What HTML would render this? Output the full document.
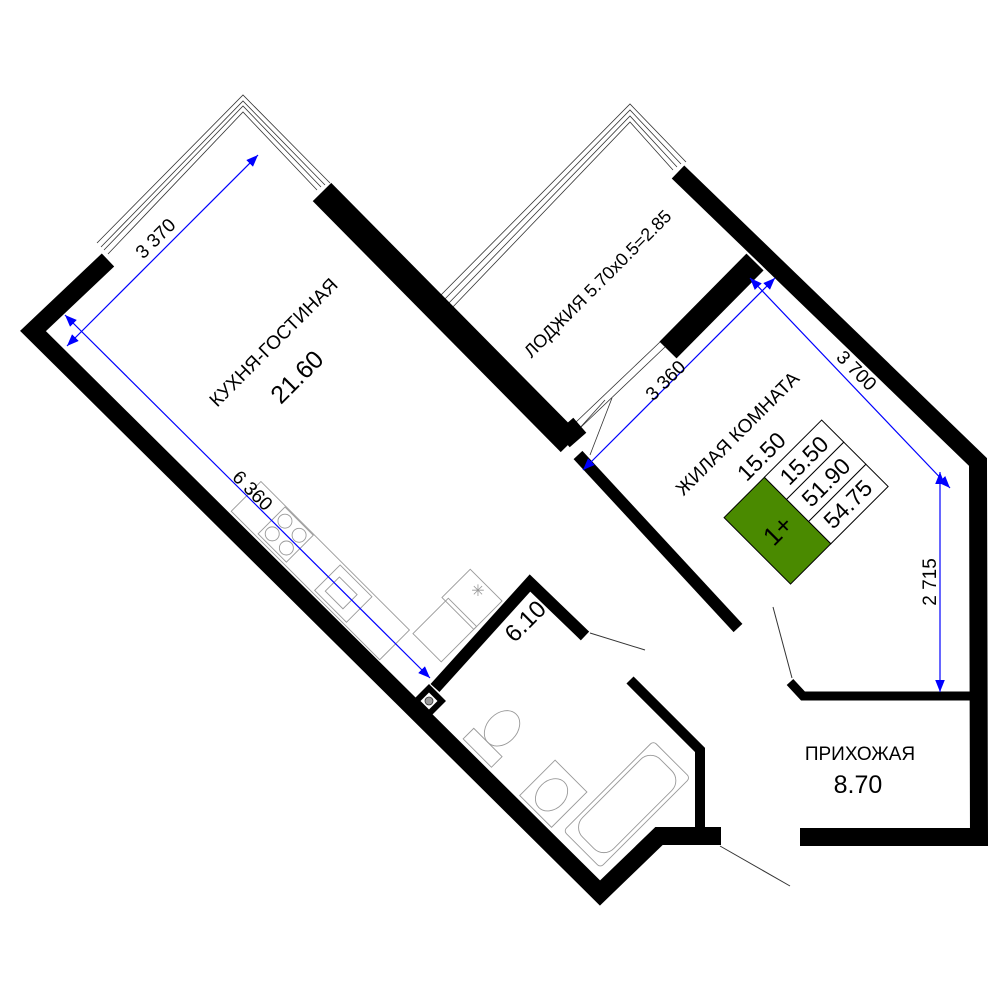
<!DOCTYPE html>
<html><head><meta charset="utf-8"><style>
html,body{margin:0;padding:0;background:#fff;}
svg{display:block;font-family:"Liberation Sans",sans-serif;}
</style></head><body>
<svg width="1000" height="1000" viewBox="0 0 1000 1000" xmlns="http://www.w3.org/2000/svg">
<rect width="1000" height="1000" fill="#fff"/>
<!-- windows -->
<g fill="none" stroke="#333" stroke-width="0.8">
<polyline points="97,243 243,95 330,183"/>
<polyline points="101,247 243,101 325,185"/>
<polyline points="104,250 243,106 321,187"/>
<polyline points="108,254 243,112 317,190"/>
<polyline points="438,298 630,104 686,162"/>
<polyline points="442,302 630,110 681,164"/>
<polyline points="446,306 630,116 677,167"/>
<polyline points="450,310 630,122 673,170"/>
<polyline points="575,423 660,342"/>
<polyline points="580,428 665,347"/>
<polyline points="578,430 605,400"/>
<line x1="590" y1="455" x2="612" y2="398"/>
</g>
<!-- walls -->
<g fill="none" stroke="#000" stroke-linejoin="miter" stroke-miterlimit="10">
<polyline points="108,260 33,331 600,893 659,836 721,836" stroke-width="18"/>
<polyline points="322,192 570,443" stroke-width="26"/>
<polyline points="578,455 738,628" stroke-width="12"/>
<polyline points="678,172 978,462 979,837 800,837" stroke-width="18"/>
<polyline points="755,262 668,350" stroke-width="24"/>
<polyline points="565,425 578,440" stroke-width="22"/>
<polyline points="435,688 530,583 585,636" stroke-width="12"/>
<polyline points="630,680 700,750 700,836" stroke-width="10"/>
<polyline points="790,682 803,696 971,696" stroke-width="9"/>
</g>
<rect x="420" y="692" width="18" height="18" fill="#fff" stroke="#000" stroke-width="6" transform="rotate(45 429 701)"/>
<circle cx="429" cy="701" r="4" fill="#999" stroke="#333" stroke-width="0.8"/>
<!-- door leaves -->
<g stroke="#333" stroke-width="1" fill="none">
<line x1="590" y1="633" x2="645" y2="650"/>
<line x1="773" y1="607" x2="792" y2="678"/>
<line x1="720" y1="846" x2="790" y2="886"/>
</g>
<!-- furniture in rotated frame -->
<g transform="rotate(-45)" fill="none" stroke="#999" stroke-width="0.9">
<rect x="-198" y="525" width="42" height="210"/>
<rect x="-195" y="560" width="38" height="40"/>
<circle cx="-185" cy="570" r="7"/><circle cx="-167" cy="570" r="7"/>
<circle cx="-185" cy="590" r="7"/><circle cx="-167" cy="590" r="7"/>
<rect x="-195" y="640" width="36" height="45"/>
<rect x="-188" y="648" width="20" height="25"/>
<rect x="-156" y="740" width="50" height="40"/>
<rect x="-110" y="735" width="40" height="45"/>
<rect x="-189" y="986" width="127" height="52" rx="4"/>
<rect x="-180" y="990" width="110" height="44" rx="14"/>
<rect x="-195" y="930" width="50" height="45"/>
<ellipse cx="-172" cy="952" rx="18" ry="14"/>
<rect x="-195" y="850" width="15" height="40"/>
<ellipse cx="-160" cy="870" rx="20" ry="15"/>
</g>
<text x="478" y="596" font-size="16" fill="#999" text-anchor="middle">✳</text>
<!-- dimensions -->
<defs><marker id="a" viewBox="0 0 10 10" refX="10" refY="5" markerWidth="12" markerHeight="12" markerUnits="userSpaceOnUse" orient="auto-start-reverse"><path d="M0,1 L10,5 L0,9 z" fill="#00f"/></marker></defs>
<g stroke="#00f" stroke-width="1.2" marker-start="url(#a)" marker-end="url(#a)">
<line x1="67" y1="346" x2="258" y2="155"/>
<line x1="65" y1="315" x2="430" y2="678"/>
<line x1="583" y1="470" x2="775" y2="278"/>
<line x1="750" y1="278" x2="950" y2="488"/>
<line x1="940" y1="472" x2="940" y2="692"/>
</g>
<!-- labels -->
<g fill="#000" text-anchor="middle">
<text font-size="19" transform="translate(160,243) rotate(-45)">3 370</text>
<text font-size="19" transform="translate(248,495) rotate(45)">6 360</text>
<text font-size="19" transform="translate(670,385) rotate(-45)">3 360</text>
<text font-size="19" transform="translate(852,375) rotate(45)">3 700</text>
<text font-size="19" transform="translate(936,582) rotate(-90)">2 715</text>
<text font-size="19" transform="translate(278,347) rotate(-45)">КУХНЯ-ГОСТИНАЯ</text>
<text font-size="25" transform="translate(303,383) rotate(-45)">21.60</text>
<text font-size="18" transform="translate(602,288) rotate(-45)">ЛОДЖИЯ 5.70x0.5=2.85</text>
<text font-size="19" transform="translate(742,438) rotate(-45)">ЖИЛАЯ КОМНАТА</text>
<text font-size="23" transform="translate(767,462) rotate(-45)">15.50</text>
<text font-size="24" transform="translate(531,627) rotate(-45)">6.10</text>
<text font-size="19" x="860" y="760">ПРИХОЖАЯ</text>
<text font-size="25" x="858" y="793">8.70</text>
</g>
<!-- legend -->
<g transform="rotate(-45)">
<rect x="146" y="878" width="57" height="94" fill="#4a8a00" stroke="#000" stroke-width="1"/>
<rect x="203" y="878" width="81" height="31.3" fill="#fff" stroke="#000" stroke-width="1"/>
<rect x="203" y="909.3" width="81" height="31.3" fill="#fff" stroke="#000" stroke-width="1"/>
<rect x="203" y="940.6" width="81" height="31.4" fill="#fff" stroke="#000" stroke-width="1"/>
<g font-size="23" text-anchor="middle" fill="#000">
<text x="243" y="902">15.50</text>
<text x="243" y="933">51.90</text>
<text x="243" y="964">54.75</text>
<text x="175" y="934" font-size="26">1+</text>
</g>
</g>
</svg>
</body></html>
